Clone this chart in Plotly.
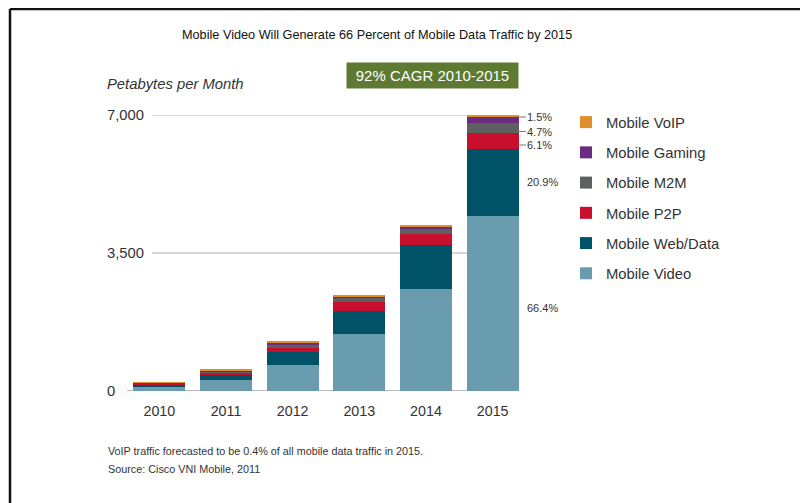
import plotly.graph_objects as go

years = ["2010", "2011", "2012", "2013", "2014", "2015"]
mobile_video = [110, 270, 660, 1438, 2587, 4450]
mobile_web = [45, 135, 322, 598, 1116, 1690]
mobile_p2p = [25, 58, 100, 228, 279, 400]
mobile_m2m = [15, 35, 90, 97, 135, 255]
mobile_gaming = [10, 33, 68, 30, 51, 150]
mobile_voip = [8, 25, 36, 42, 42, 55]

series_names = ["Mobile Video", "Mobile Web/Data", "Mobile P2P", "Mobile M2M",
                "Mobile Gaming", "Mobile VoIP"]
series_values = [mobile_video, mobile_web, mobile_p2p, mobile_m2m, mobile_gaming, mobile_voip]
series_colors = ["#6A9CB0", "#005266", "#C8102E", "#5E5F61", "#6A2C82", "#E08F2A"]

y_tick_values = [0, 3500, 7000]
y_tick_labels = ["0", "3,500", "7,000"]

pct_labels = ["1.5%", "4.7%", "6.1%", "20.9%", "66.4%"]
pct_label_y = [6950, 6580, 6240, 5300, 2100]
pct_has_leader = [True, True, True, False, False]

FONT = "Liberation Sans, Arial, Helvetica, sans-serif"
# page body has an 8px margin; the figure is sized to fit the window
OFF = 8
W, H = 808 - OFF, 503 - OFF

def px(x):
    return (x - OFF) / W

def py(y):
    return (H - (y - OFF)) / H

fig = go.Figure()
n = len(series_names)
for i, (name, vals, col) in enumerate(zip(series_names, series_values, series_colors)):
    fig.add_trace(go.Bar(
        x=years, y=vals, name=name, marker=dict(color=col, line=dict(width=0)),
        legendgroup=name, legendrank=n - i,
    ))

shapes = []
for v in [3500, 7000]:
    shapes.append(dict(type="line", xref="paper", yref="y", x0=px(152), x1=px(518),
                       y0=v, y1=v, line=dict(color="#c9c9c9", width=1.5), layer="below"))
shapes.append(dict(type="line", xref="paper", yref="y", x0=px(127), x1=px(518),
                   y0=0, y1=0, line=dict(color="#a0a0a0", width=1.5), layer="below"))
# frame lines
shapes.append(dict(type="line", xref="paper", yref="paper", x0=px(10), x1=1.0,
                   y0=py(9), y1=py(9), line=dict(color="#111111", width=2.5)))
shapes.append(dict(type="line", xref="paper", yref="paper", x0=px(10), x1=px(10),
                   y0=py(9), y1=0, line=dict(color="#111111", width=2.5)))

annotations = []
for v, t in zip(y_tick_values, y_tick_labels):
    annotations.append(dict(xref="paper", yref="y", x=px(105), y=v, text=t,
                            xanchor="left", yanchor="middle", showarrow=False,
                            font=dict(family=FONT, size=14.8, color="#333333")))
for t, yv, lead in zip(pct_labels, pct_label_y, pct_has_leader):
    annotations.append(dict(xref="paper", yref="y", x=px(525), y=yv, text=t,
                            xanchor="left", yanchor="middle", showarrow=False,
                            font=dict(family=FONT, size=11, color="#333333")))
    if lead:
        shapes.append(dict(type="line", xref="paper", yref="y", x0=px(518), x1=px(526),
                           y0=yv, y1=yv, line=dict(color="#777777", width=1)))

annotations.append(dict(xref="paper", yref="paper", x=px(105), y=py(84),
                        text="<i>Petabytes per Month</i>", xanchor="left", yanchor="middle",
                        showarrow=False, font=dict(family=FONT, size=14.8, color="#333333")))
annotations.append(dict(xref="paper", yref="paper", x=px(432.5), y=py(75.5),
                        text="92% CAGR 2010-2015", xanchor="center", yanchor="middle",
                        showarrow=False, bgcolor="#5E7A32", width=171, height=25, borderpad=0,
                        font=dict(family=FONT, size=15, color="#ffffff")))
annotations.append(dict(xref="paper", yref="paper", x=px(377), y=py(35),
                        text="Mobile Video Will Generate 66 Percent of Mobile Data Traffic by 2015",
                        xanchor="center", yanchor="middle", showarrow=False,
                        font=dict(family=FONT, size=12.7, color="#111111")))
annotations.append(dict(xref="paper", yref="paper", x=px(106), y=py(451),
                        text="VoIP traffic forecasted to be 0.4% of all mobile data traffic in 2015.",
                        xanchor="left", yanchor="middle", showarrow=False,
                        font=dict(family=FONT, size=10.8, color="#333333")))
annotations.append(dict(xref="paper", yref="paper", x=px(106), y=py(469),
                        text="Source: Cisco VNI Mobile, 2011",
                        xanchor="left", yanchor="middle", showarrow=False,
                        font=dict(family=FONT, size=10.8, color="#333333")))

fig.update_layout(
    width=W, height=H,
    margin=dict(l=0, r=0, t=0, b=0),
    paper_bgcolor="white", plot_bgcolor="rgba(0,0,0,0)",
    barmode="stack", bargap=0.22,
    font=dict(family=FONT, color="#333333"),
    xaxis=dict(domain=[px(126), px(526)], range=[-0.5, 5.5], showgrid=False,
               showline=False, zeroline=False, ticks="",
               tickfont=dict(family=FONT, size=14.3, color="#333333"),
               ticklabelstandoff=10, fixedrange=True),
    yaxis=dict(domain=[py(391), py(115)], range=[0, 7000], showgrid=False,
               showticklabels=False, zeroline=False, showline=False, ticks=""),
    legend=dict(x=px(566), y=py(106), xanchor="left", yanchor="top",
                traceorder="grouped", tracegroupgap=8,
                font=dict(family=FONT, size=14.8, color="#333333"),
                itemwidth=30, bgcolor="rgba(0,0,0,0)"),
    shapes=shapes, annotations=annotations,
)

fig.write_html("out.html")
